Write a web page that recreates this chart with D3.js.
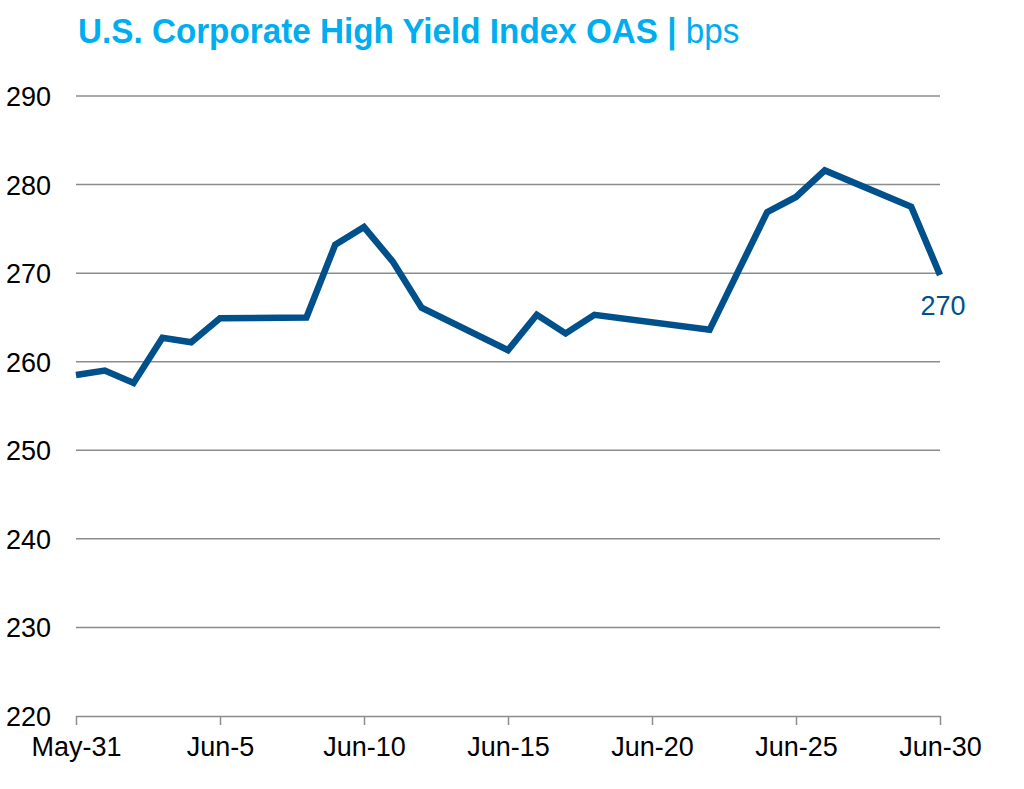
<!DOCTYPE html>
<html>
<head>
<meta charset="utf-8">
<script src="https://cdn.jsdelivr.net/npm/d3@7"></script>
<style>
  body { margin: 0; background: #fff; }
  svg { font-family: "Liberation Sans", Arial, sans-serif; }
</style>
</head>
<body>
<div id="chart"></div>
<script>
// Daily OAS readings
const dates = ["2020-05-31", "2020-06-01", "2020-06-02", "2020-06-03", "2020-06-04", "2020-06-05",
    "2020-06-08", "2020-06-09", "2020-06-10", "2020-06-11", "2020-06-12",
    "2020-06-15", "2020-06-16", "2020-06-17", "2020-06-18", "2020-06-22",
    "2020-06-24", "2020-06-25", "2020-06-26", "2020-06-29", "2020-06-30"];
const oas = [258.5, 259.0, 257.6, 262.7, 262.2, 264.9,
    265.0, 273.2, 275.2, 271.3, 266.1,
    261.3, 265.3, 263.2, 265.3, 263.6,
    276.9, 278.6, 281.6, 277.5, 269.8];
const yTicks = [220, 230, 240, 250, 260, 270, 280, 290];
const xTickDates = ["2020-05-31", "2020-06-05", "2020-06-10", "2020-06-15", "2020-06-20", "2020-06-25", "2020-06-30"];
const lastLabel = "270";

const width = 1024, height = 789;
const margin = { top: 96, right: 84, bottom: 73, left: 76 };

const parse = d3.timeParse("%Y-%m-%d");
const data = dates.map((d, i) => ({ date: parse(d), value: oas[i] }));

const svg = d3.select("#chart").append("svg")
    .attr("width", width)
    .attr("height", height);

// Title (slightly condensed like the original)
const title = svg.append("text")
    .attr("transform", "translate(78,43) scale(0.95,1)")
    .attr("fill", "#00AEEF")
    .style("font-size", "35px");
title.append("tspan").attr("font-weight", "bold").text("U.S. Corporate High Yield Index OAS | ");
title.append("tspan").text("bps");

const x = d3.scaleTime()
    .domain([parse("2020-05-31"), parse("2020-06-30")])
    .range([margin.left, width - margin.right]);

const y = d3.scaleLinear()
    .domain([220, 290])
    .range([height - margin.bottom, margin.top]);

// Gridlines
svg.append("g")
    .selectAll("line")
    .data(yTicks.filter(d => d !== 220))
    .join("line")
    .attr("x1", margin.left)
    .attr("x2", width - margin.right)
    .attr("y1", d => y(d))
    .attr("y2", d => y(d))
    .attr("stroke", "#8c8c8c")
    .attr("stroke-width", 1.5);

// Y labels
svg.append("g")
    .selectAll("text")
    .data(yTicks)
    .join("text")
    .attr("x", 51)
    .attr("y", d => y(d) + 10)
    .attr("text-anchor", "end")
    .style("font-size", "27px")
    .attr("fill", "#000")
    .text(d => d);

// X axis
const xAxis = d3.axisBottom(x)
    .tickValues(xTickDates.map(parse))
    .tickFormat(d3.timeFormat("%b-%-d"))
    .tickSize(9)
    .tickSizeOuter(0);

const gx = svg.append("g")
    .attr("transform", `translate(0,${y(220)})`)
    .call(xAxis);
gx.select(".domain").attr("stroke", "#8c8c8c").attr("stroke-width", 1.5);
gx.selectAll(".tick line").attr("stroke", "#8c8c8c").attr("stroke-width", 1.5);
gx.selectAll(".tick text")
    .attr("dy", "1.05em")
    .attr("fill", "#000")
    .style("font-size", "27px")
    .style("font-family", "'Liberation Sans', Arial, sans-serif");

// Line
const line = d3.line()
    .x(d => x(d.date))
    .y(d => y(d.value));

svg.append("path")
    .datum(data)
    .attr("d", line)
    .attr("fill", "none")
    .attr("stroke", "#00508C")
    .attr("stroke-width", 6.5)
    .attr("stroke-linejoin", "miter");

// Last value label
const last = data[data.length - 1];
svg.append("text")
    .attr("x", x(last.date) + 3)
    .attr("y", y(last.value) + 40)
    .attr("text-anchor", "middle")
    .attr("fill", "#00508C")
    .style("font-size", "27px")
    .text(lastLabel);
</script>
</body>
</html>
